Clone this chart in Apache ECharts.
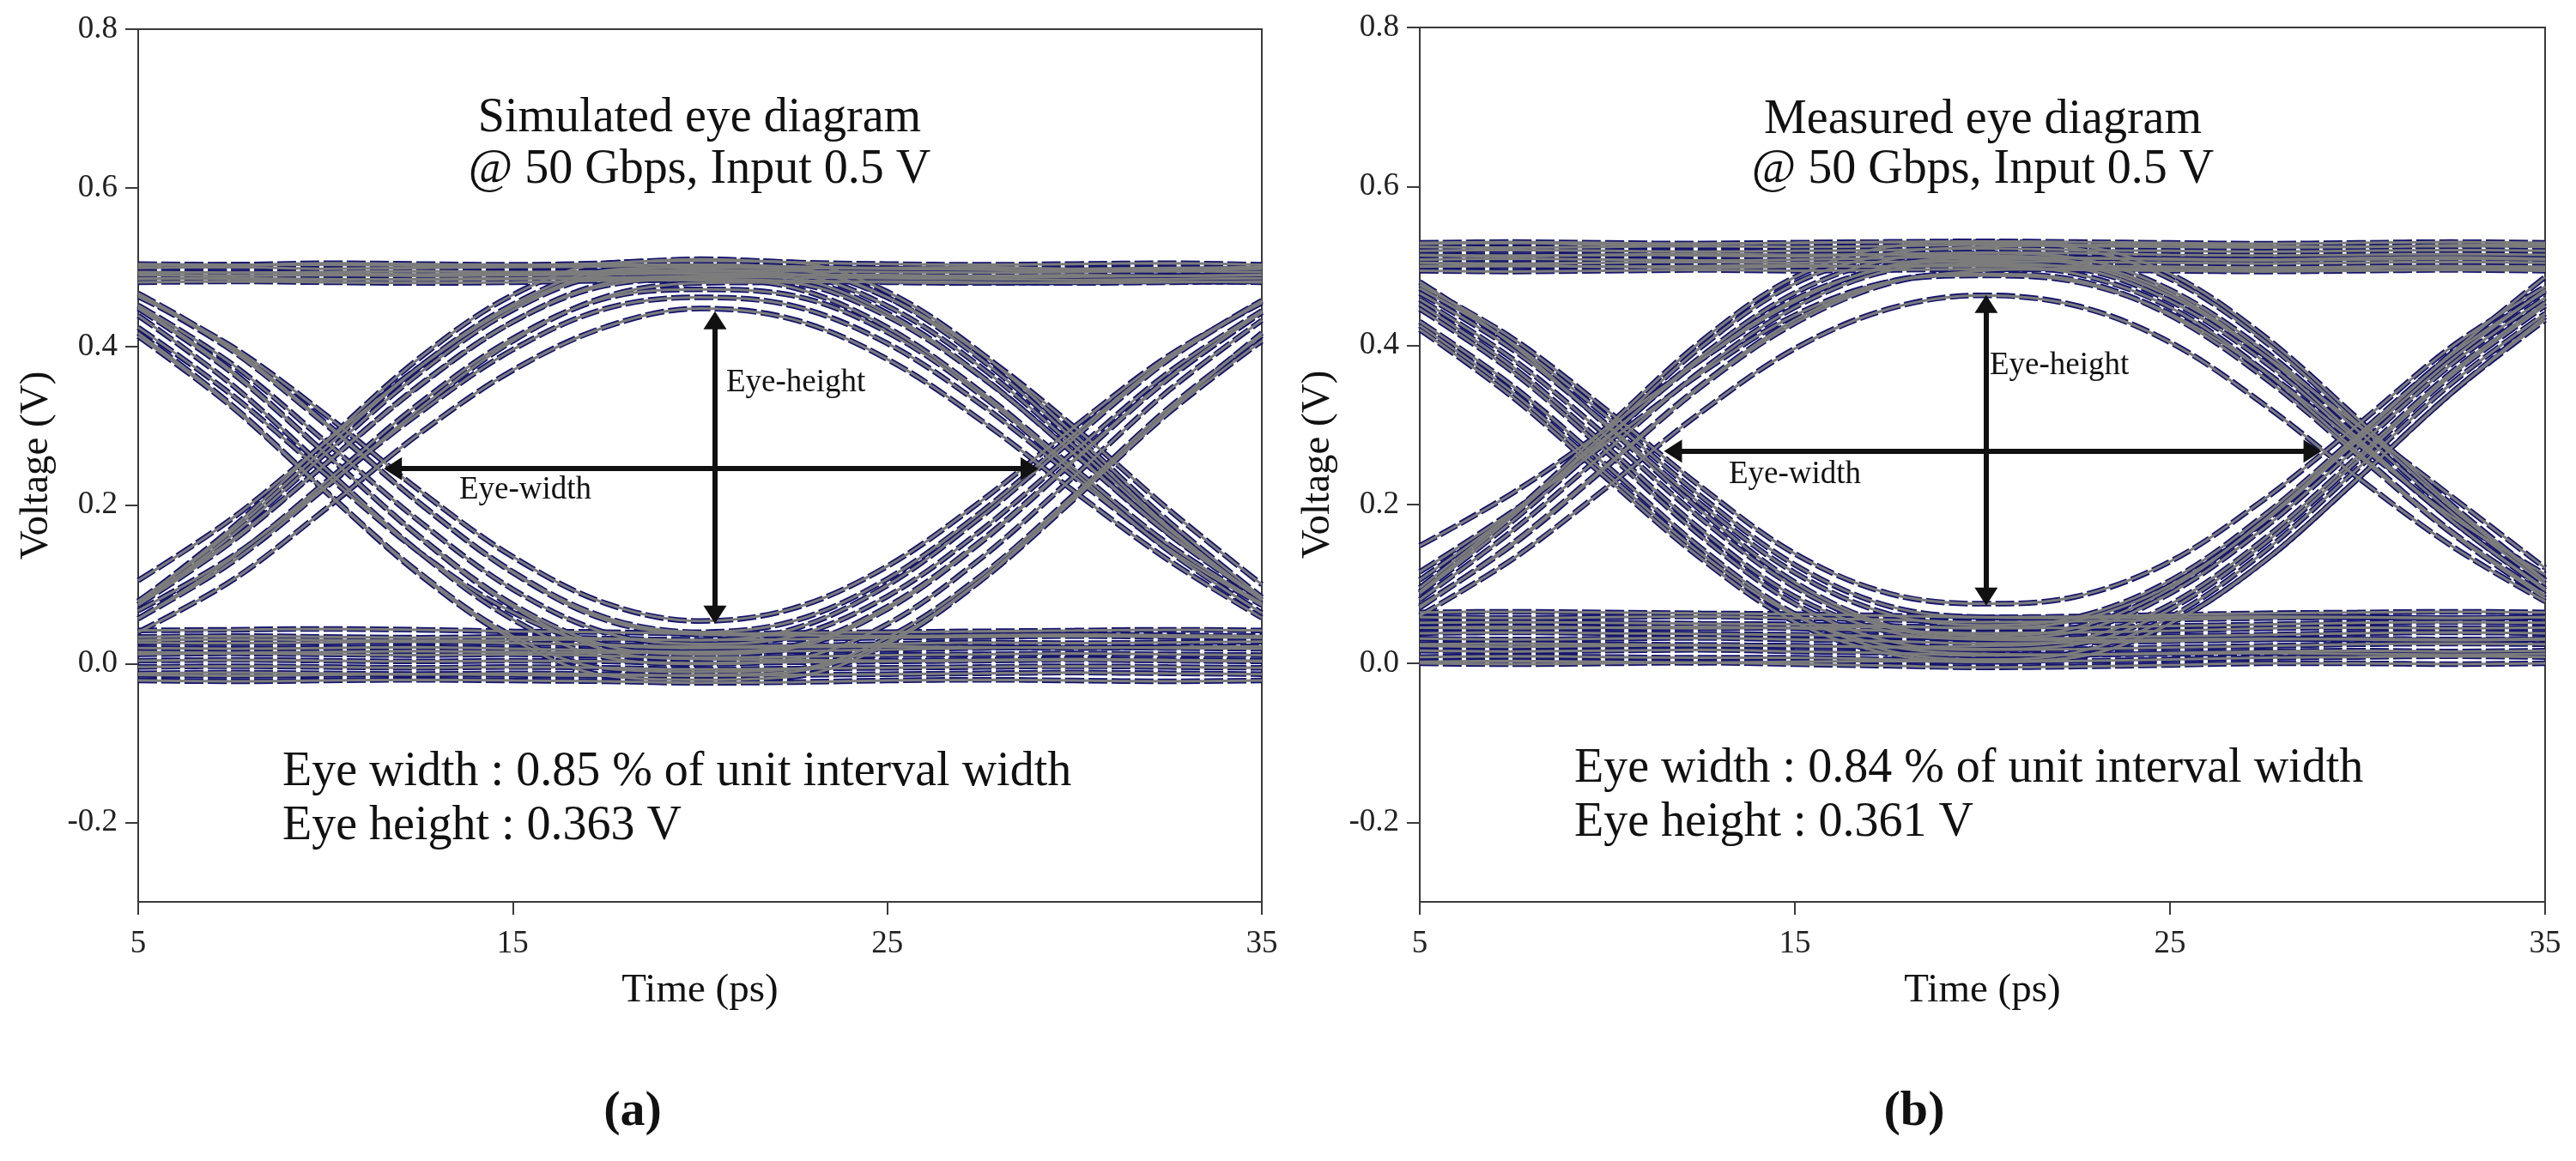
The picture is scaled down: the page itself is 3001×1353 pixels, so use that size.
<!DOCTYPE html>
<html>
<head>
<meta charset="utf-8">
<script src="https://cdn.jsdelivr.net/npm/echarts@6/dist/echarts.min.js"></script>
<style>
  html, body { margin: 0; padding: 0; background: #fff; }
  #chart { width: 3001px; height: 1353px; }
</style>
</head>
<body>
<div id="chart"></div>
<script>
// sample times (ps) shared by every trace
const timePs = [5, 7.5, 10, 12.5, 15, 17.5, 20, 22.5, 25, 27.5, 30, 32.5, 35];
const xTicks = [5, 15, 25, 35];
const yTicks = [-0.2, 0, 0.2, 0.4, 0.6, 0.8];

// ---- (a) simulated eye, voltages (V) at timePs ----
const simRiseFall = [
  [0.078, 0.171, 0.280, 0.385, 0.465, 0.505, 0.508, 0.506, 0.469, 0.392, 0.289, 0.180, 0.084],
  [0.075, 0.162, 0.265, 0.366, 0.446, 0.490, 0.495, 0.491, 0.451, 0.374, 0.274, 0.170, 0.081],
  [0.074, 0.154, 0.252, 0.351, 0.431, 0.477, 0.485, 0.480, 0.438, 0.362, 0.265, 0.165, 0.083],
  [0.057, 0.133, 0.229, 0.328, 0.410, 0.461, 0.472, 0.464, 0.418, 0.339, 0.241, 0.143, 0.064],
  [0.067, 0.135, 0.224, 0.316, 0.396, 0.448, 0.462, 0.451, 0.404, 0.327, 0.235, 0.145, 0.074],
  [0.040, 0.105, 0.195, 0.290, 0.370, 0.425, 0.448, 0.434, 0.384, 0.307, 0.217, 0.131, 0.058],
  [0.105, 0.183, 0.279, 0.374, 0.450, 0.493, 0.500, 0.497, 0.462, 0.391, 0.298, 0.195, 0.100]
];
const simFallRise = [
  [0.417, 0.326, 0.218, 0.115, 0.035, -0.006, -0.010, -0.007, 0.033, 0.111, 0.214, 0.322, 0.414],
  [0.439, 0.352, 0.246, 0.141, 0.056, 0.008, 0.000, 0.006, 0.050, 0.133, 0.237, 0.344, 0.433],
  [0.448, 0.367, 0.265, 0.161, 0.075, 0.023, 0.012, 0.020, 0.069, 0.153, 0.256, 0.359, 0.443],
  [0.452, 0.378, 0.280, 0.180, 0.094, 0.039, 0.025, 0.035, 0.085, 0.168, 0.268, 0.367, 0.445],
  [0.465, 0.395, 0.302, 0.203, 0.116, 0.058, 0.040, 0.054, 0.107, 0.191, 0.290, 0.385, 0.458],
  [0.463, 0.400, 0.314, 0.219, 0.135, 0.076, 0.054, 0.070, 0.123, 0.205, 0.299, 0.388, 0.455],
  [0.413, 0.324, 0.217, 0.113, 0.031, -0.015, -0.020, -0.016, 0.025, 0.105, 0.208, 0.316, 0.407]
];
const simRiseHold = [
  [0.079, 0.167, 0.272, 0.374, 0.453, 0.496, 0.500, 0.499, 0.498, 0.497, 0.496, 0.497, 0.498],
  [0.079, 0.156, 0.252, 0.350, 0.431, 0.480, 0.489, 0.490, 0.488, 0.487, 0.488, 0.489, 0.490],
  [0.057, 0.128, 0.222, 0.321, 0.407, 0.463, 0.480, 0.481, 0.482, 0.481, 0.480, 0.481, 0.482]
];
const simHoldFall = [
  [0.502, 0.503, 0.503, 0.502, 0.502, 0.503, 0.503, 0.499, 0.462, 0.384, 0.282, 0.173, 0.080],
  [0.492, 0.493, 0.492, 0.491, 0.492, 0.493, 0.492, 0.486, 0.442, 0.363, 0.264, 0.164, 0.081],
  [0.485, 0.486, 0.485, 0.484, 0.485, 0.486, 0.485, 0.474, 0.424, 0.343, 0.246, 0.151, 0.076]
];
const simFallHold = [
  [0.424, 0.339, 0.239, 0.141, 0.065, 0.024, 0.020, 0.021, 0.022, 0.021, 0.020, 0.021, 0.022],
  [0.450, 0.369, 0.265, 0.160, 0.072, 0.017, 0.006, 0.005, 0.004, 0.005, 0.006, 0.005, 0.004],
  [0.467, 0.398, 0.304, 0.203, 0.115, 0.055, 0.037, 0.036, 0.035, 0.036, 0.037, 0.036, 0.035]
];
const simHoldRise = [
  [-0.014, -0.015, -0.014, -0.013, -0.014, -0.015, -0.014, -0.010, 0.028, 0.106, 0.210, 0.318, 0.417],
  [0.015, 0.014, 0.015, 0.016, 0.015, 0.014, 0.015, 0.023, 0.072, 0.155, 0.258, 0.360, 0.443],
  [0.030, 0.031, 0.030, 0.029, 0.030, 0.031, 0.030, 0.044, 0.099, 0.185, 0.285, 0.383, 0.457]
];
const simHighRail = [
  [0.504, 0.503, 0.505, 0.504, 0.503, 0.505, 0.510, 0.506, 0.504, 0.503, 0.504, 0.505, 0.503],
  [0.499, 0.500, 0.498, 0.499, 0.500, 0.501, 0.503, 0.501, 0.499, 0.500, 0.498, 0.499, 0.500],
  [0.494, 0.493, 0.494, 0.495, 0.494, 0.495, 0.497, 0.495, 0.494, 0.493, 0.494, 0.495, 0.494],
  [0.490, 0.489, 0.490, 0.489, 0.490, 0.491, 0.492, 0.491, 0.490, 0.489, 0.490, 0.489, 0.490],
  [0.486, 0.485, 0.484, 0.485, 0.486, 0.487, 0.488, 0.487, 0.486, 0.485, 0.484, 0.485, 0.486],
  [0.481, 0.482, 0.481, 0.480, 0.481, 0.483, 0.484, 0.483, 0.481, 0.480, 0.481, 0.482, 0.481]
];
const simLowRail = [
  [0.042, 0.043, 0.044, 0.043, 0.041, 0.040, 0.038, 0.039, 0.040, 0.041, 0.042, 0.043, 0.042],
  [0.034, 0.035, 0.034, 0.033, 0.034, 0.032, 0.030, 0.031, 0.033, 0.034, 0.035, 0.034, 0.033],
  [0.027, 0.026, 0.027, 0.028, 0.026, 0.024, 0.022, 0.023, 0.025, 0.027, 0.026, 0.027, 0.028],
  [0.020, 0.019, 0.020, 0.021, 0.019, 0.017, 0.015, 0.016, 0.018, 0.020, 0.021, 0.020, 0.019],
  [0.012, 0.013, 0.012, 0.011, 0.012, 0.010, 0.008, 0.009, 0.011, 0.012, 0.013, 0.012, 0.011],
  [0.004, 0.005, 0.004, 0.003, 0.004, 0.003, 0.001, 0.002, 0.003, 0.004, 0.005, 0.004, 0.003],
  [-0.004, -0.003, -0.004, -0.005, -0.004, -0.005, -0.007, -0.006, -0.005, -0.004, -0.003, -0.004, -0.005],
  [-0.012, -0.011, -0.012, -0.013, -0.012, -0.013, -0.015, -0.014, -0.013, -0.012, -0.011, -0.012, -0.013],
  [-0.021, -0.022, -0.021, -0.020, -0.021, -0.022, -0.024, -0.023, -0.021, -0.020, -0.021, -0.022, -0.021]
];
const simArrowH = [[11.8, 0.246], [28.8, 0.246]];
const simArrowV = [[20.4, 0.433], [20.4, 0.062]];

// ---- (b) measured eye ----
const measRiseFall = [
  [0.095, 0.190, 0.298, 0.405, 0.486, 0.524, 0.530, 0.526, 0.490, 0.412, 0.308, 0.200, 0.105],
  [0.088, 0.180, 0.283, 0.386, 0.466, 0.508, 0.516, 0.510, 0.470, 0.394, 0.293, 0.190, 0.100],
  [0.080, 0.168, 0.268, 0.368, 0.448, 0.494, 0.503, 0.497, 0.456, 0.380, 0.280, 0.180, 0.092],
  [0.070, 0.152, 0.250, 0.350, 0.432, 0.480, 0.490, 0.482, 0.438, 0.360, 0.262, 0.164, 0.082],
  [0.115, 0.192, 0.278, 0.365, 0.438, 0.480, 0.488, 0.480, 0.440, 0.368, 0.276, 0.185, 0.112],
  [0.060, 0.132, 0.222, 0.316, 0.396, 0.446, 0.463, 0.450, 0.404, 0.326, 0.234, 0.148, 0.078],
  [0.148, 0.215, 0.296, 0.382, 0.455, 0.500, 0.510, 0.502, 0.462, 0.388, 0.300, 0.210, 0.120]
];
const measFallRise = [
  [0.420, 0.334, 0.232, 0.132, 0.052, 0.012, 0.002, 0.008, 0.050, 0.128, 0.232, 0.340, 0.432],
  [0.446, 0.366, 0.265, 0.160, 0.075, 0.028, 0.018, 0.024, 0.068, 0.150, 0.255, 0.362, 0.450],
  [0.458, 0.382, 0.285, 0.182, 0.096, 0.045, 0.032, 0.040, 0.088, 0.170, 0.272, 0.376, 0.460],
  [0.466, 0.394, 0.300, 0.200, 0.114, 0.062, 0.048, 0.058, 0.104, 0.186, 0.287, 0.388, 0.468],
  [0.476, 0.408, 0.318, 0.222, 0.138, 0.088, 0.075, 0.084, 0.128, 0.206, 0.300, 0.398, 0.474],
  [0.480, 0.400, 0.298, 0.192, 0.102, 0.048, 0.035, 0.045, 0.094, 0.180, 0.284, 0.390, 0.486],
  [0.430, 0.348, 0.248, 0.145, 0.062, 0.016, 0.005, 0.014, 0.058, 0.140, 0.245, 0.352, 0.440]
];
const measRiseHold = [
  [0.090, 0.186, 0.292, 0.398, 0.478, 0.515, 0.524, 0.526, 0.527, 0.525, 0.524, 0.526, 0.527],
  [0.105, 0.190, 0.286, 0.382, 0.458, 0.498, 0.508, 0.510, 0.509, 0.508, 0.510, 0.511, 0.509],
  [0.072, 0.150, 0.248, 0.348, 0.428, 0.478, 0.494, 0.497, 0.496, 0.495, 0.497, 0.498, 0.496]
];
const measHoldFall = [
  [0.528, 0.529, 0.527, 0.528, 0.529, 0.530, 0.529, 0.522, 0.484, 0.406, 0.302, 0.196, 0.104],
  [0.513, 0.512, 0.514, 0.513, 0.512, 0.514, 0.513, 0.505, 0.466, 0.388, 0.284, 0.180, 0.094],
  [0.500, 0.501, 0.499, 0.500, 0.501, 0.499, 0.500, 0.490, 0.448, 0.368, 0.266, 0.166, 0.086]
];
const measFallHold = [
  [0.425, 0.340, 0.238, 0.138, 0.060, 0.022, 0.012, 0.011, 0.012, 0.013, 0.012, 0.011, 0.012],
  [0.452, 0.372, 0.272, 0.168, 0.084, 0.040, 0.030, 0.029, 0.030, 0.031, 0.030, 0.029, 0.030],
  [0.472, 0.402, 0.310, 0.210, 0.124, 0.072, 0.058, 0.057, 0.058, 0.059, 0.058, 0.057, 0.058]
];
const measHoldRise = [
  [0.002, 0.003, 0.002, 0.001, 0.002, 0.003, 0.002, 0.008, 0.050, 0.128, 0.232, 0.340, 0.436],
  [0.022, 0.021, 0.022, 0.023, 0.022, 0.021, 0.022, 0.030, 0.074, 0.156, 0.260, 0.366, 0.454],
  [0.045, 0.046, 0.045, 0.044, 0.045, 0.046, 0.045, 0.054, 0.098, 0.178, 0.280, 0.382, 0.470]
];
const measHighRail = [
  [0.529, 0.530, 0.529, 0.528, 0.529, 0.530, 0.531, 0.530, 0.529, 0.528, 0.529, 0.530, 0.529],
  [0.524, 0.523, 0.524, 0.525, 0.524, 0.525, 0.527, 0.525, 0.524, 0.523, 0.524, 0.525, 0.524],
  [0.519, 0.520, 0.519, 0.518, 0.519, 0.520, 0.522, 0.520, 0.519, 0.518, 0.519, 0.520, 0.519],
  [0.514, 0.513, 0.514, 0.515, 0.514, 0.515, 0.517, 0.516, 0.514, 0.513, 0.514, 0.515, 0.514],
  [0.508, 0.509, 0.508, 0.507, 0.508, 0.510, 0.512, 0.510, 0.508, 0.507, 0.508, 0.509, 0.508],
  [0.504, 0.503, 0.504, 0.505, 0.504, 0.505, 0.506, 0.505, 0.504, 0.503, 0.504, 0.505, 0.504],
  [0.499, 0.500, 0.499, 0.498, 0.499, 0.500, 0.501, 0.500, 0.499, 0.498, 0.499, 0.500, 0.499],
  [0.494, 0.493, 0.494, 0.495, 0.494, 0.495, 0.496, 0.495, 0.494, 0.493, 0.494, 0.495, 0.494]
];
const measLowRail = [
  [0.064, 0.065, 0.064, 0.063, 0.062, 0.060, 0.058, 0.059, 0.061, 0.063, 0.064, 0.065, 0.064],
  [0.058, 0.057, 0.058, 0.059, 0.057, 0.055, 0.052, 0.053, 0.055, 0.057, 0.058, 0.057, 0.058],
  [0.051, 0.052, 0.051, 0.050, 0.049, 0.047, 0.044, 0.045, 0.047, 0.049, 0.051, 0.052, 0.051],
  [0.045, 0.044, 0.045, 0.046, 0.044, 0.041, 0.038, 0.039, 0.041, 0.044, 0.045, 0.044, 0.045],
  [0.038, 0.039, 0.038, 0.037, 0.036, 0.034, 0.031, 0.032, 0.034, 0.036, 0.038, 0.039, 0.038],
  [0.031, 0.030, 0.031, 0.032, 0.030, 0.028, 0.025, 0.026, 0.028, 0.030, 0.031, 0.030, 0.031],
  [0.024, 0.025, 0.024, 0.023, 0.022, 0.020, 0.017, 0.018, 0.020, 0.022, 0.024, 0.025, 0.024],
  [0.016, 0.015, 0.016, 0.017, 0.015, 0.013, 0.010, 0.011, 0.013, 0.015, 0.016, 0.015, 0.016],
  [0.008, 0.009, 0.008, 0.007, 0.007, 0.005, 0.002, 0.003, 0.005, 0.007, 0.008, 0.009, 0.008],
  [0.000, -0.001, 0.000, 0.001, -0.001, -0.003, -0.005, -0.004, -0.002, 0.000, 0.000, -0.001, 0.000]
];
const measArrowH = [[11.75, 0.267], [28.8, 0.267]];
const measArrowV = [[20.1, 0.452], [20.1, 0.084]];

const serif = '"Liberation Serif", "Times New Roman", serif';
const frameColor = '#3a3a3a';

let myChart = echarts.init(document.getElementById('chart'));

// each trace = navy dashed outline + gray core
function addTraces(list, rows, idx) {
  rows.forEach(function (row) {
    let pts = timePs.map(function (t, i) { return [t, row[i]]; });
    let base = {
      type: 'line', xAxisIndex: idx, yAxisIndex: idx, data: pts,
      smooth: 0.35, symbol: 'none', silent: true, animation: false
    };
    list.push(Object.assign({}, base, { z: 2, lineStyle: { color: '#14146e', width: 6.5, type: [22, 5] } }));
    list.push(Object.assign({}, base, { z: 3, lineStyle: { color: '#7c7c7c', width: 3 } }));
  });
}

function arrowSeries(idx, arrows) {
  return {
    type: 'line', xAxisIndex: idx, yAxisIndex: idx, data: [], silent: true, animation: false, z: 10,
    markLine: {
      silent: true, animation: false,
      symbol: ['triangle', 'triangle'], symbolSize: [27, 21],
      label: { show: false },
      lineStyle: { color: '#111', width: 6, type: 'solid' },
      data: arrows.map(function (a) { return [{ coord: a[0] }, { coord: a[1] }]; })
    }
  };
}

function xAxisFor(idx) {
  return {
    type: 'value', gridIndex: idx, min: 5, max: 35,
    name: 'Time (ps)', nameLocation: 'middle', nameGap: 80,
    nameTextStyle: { fontFamily: serif, fontSize: 47, color: '#111' },
    axisLine: { onZero: false, lineStyle: { color: frameColor, width: 2 } },
    axisTick: { customValues: xTicks, length: 15, lineStyle: { color: frameColor, width: 2 } },
    axisLabel: { customValues: xTicks, fontFamily: serif, fontSize: 37, color: '#222', margin: 31 },
    splitLine: { show: false }
  };
}

function yAxisFor(idx) {
  return {
    type: 'value', gridIndex: idx, min: -0.3, max: 0.8,
    name: 'Voltage (V)', nameLocation: 'middle', nameGap: 95,
    nameTextStyle: { fontFamily: serif, fontSize: 47, color: '#111' },
    axisLine: { onZero: false, lineStyle: { color: frameColor, width: 2 } },
    axisTick: { customValues: yTicks, length: 15, lineStyle: { color: frameColor, width: 2 } },
    axisLabel: {
      customValues: yTicks, fontFamily: serif, fontSize: 37, color: '#222', margin: 24,
      formatter: function (v) { return v.toFixed(1); }
    },
    splitLine: { show: false }
  };
}

function txt(x, y, text, size, align, weight) {
  return {
    type: 'text', x: x, y: y, silent: true,
    style: {
      text: text, fill: '#111', textAlign: align || 'center', textVerticalAlign: 'middle',
      font: (weight || 'normal') + ' ' + size + 'px ' + serif
    }
  };
}

let series = [];
addTraces(series, simHighRail, 0);
addTraces(series, simLowRail, 0);
addTraces(series, simRiseFall, 0);
addTraces(series, simFallRise, 0);
addTraces(series, simRiseHold, 0);
addTraces(series, simHoldFall, 0);
addTraces(series, simFallHold, 0);
addTraces(series, simHoldRise, 0);
addTraces(series, measHighRail, 1);
addTraces(series, measLowRail, 1);
addTraces(series, measRiseFall, 1);
addTraces(series, measFallRise, 1);
addTraces(series, measRiseHold, 1);
addTraces(series, measHoldFall, 1);
addTraces(series, measFallHold, 1);
addTraces(series, measHoldRise, 1);
series.push(arrowSeries(0, [simArrowH, simArrowV]));
series.push(arrowSeries(1, [measArrowH, measArrowV]));

let option = {
  backgroundColor: '#fff',
  animation: false,
  grid: [
    { left: 161, top: 34, width: 1309, height: 1017, show: true, borderColor: frameColor, borderWidth: 2 },
    { left: 1654, top: 32, width: 1311, height: 1019, show: true, borderColor: frameColor, borderWidth: 2 }
  ],
  xAxis: [xAxisFor(0), xAxisFor(1)],
  yAxis: [yAxisFor(0), yAxisFor(1)],
  series: series,
  graphic: [
    txt(815, 138, 'Simulated eye diagram', 56),
    txt(815, 198, '@ 50 Gbps, Input 0.5 V', 56),
    txt(846, 446, 'Eye-height', 37, 'left'),
    txt(535, 571, 'Eye-width', 37, 'left'),
    txt(329, 900, 'Eye width : 0.85 % of unit interval width', 56, 'left'),
    txt(329, 963, 'Eye height : 0.363 V', 56, 'left'),
    txt(737, 1296, '(a)', 58, 'center', 'bold'),

    txt(2310, 140, 'Measured eye diagram', 56),
    txt(2310, 198, '@ 50 Gbps, Input 0.5 V', 56),
    txt(2318, 426, 'Eye-height', 37, 'left'),
    txt(2014, 553, 'Eye-width', 37, 'left'),
    txt(1834, 896, 'Eye width : 0.84 % of unit interval width', 56, 'left'),
    txt(1834, 959, 'Eye height : 0.361 V', 56, 'left'),
    txt(2230, 1296, '(b)', 58, 'center', 'bold')
  ]
};

myChart.setOption(option);
</script>
</body>
</html>
